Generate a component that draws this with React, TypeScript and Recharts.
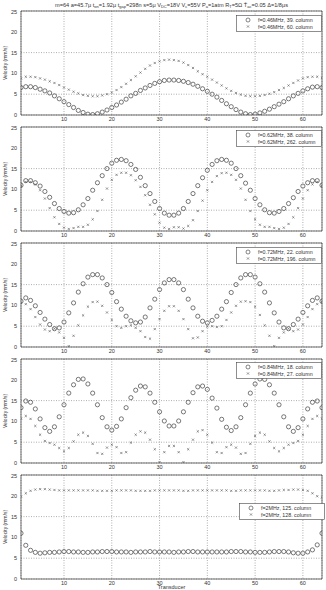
import { ScatterChart, Scatter, XAxis, YAxis, CartesianGrid, ReferenceArea } from 'recharts';

const columns = Array.from({ length: 64 }, (_, i) => i + 1);
const xTicks = [10, 20, 30, 40, 50, 60];
const yTicks = [0, 5, 10, 15, 20, 25];

// f = 0.46 MHz
const circles046 = [
  6.6, 6.8, 6.8, 6.6, 6.2, 5.8, 5.3, 4.6, 3.9, 3.2,
  2.5, 1.8, 1.1, 0.6, 0.2, 0.1, 0.3, 0.7, 1.2, 1.8,
  2.4, 3.1, 3.8, 4.6, 5.2, 5.9, 6.5, 7.1, 7.6, 8.0,
  8.3, 8.4, 8.4, 8.3, 8.1, 7.8, 7.4, 6.9, 6.3, 5.7,
  5.0, 4.3, 3.5, 2.7, 2.0, 1.3, 0.7, 0.3, 0.1, 0.2,
  0.5, 0.9, 1.4, 2.0, 2.6, 3.2, 3.9, 4.6, 5.2, 5.8,
  6.3, 6.7, 6.8, 6.6,
];
const crosses046 = [
  8.8, 9.2, 9.2, 9.1, 8.8, 8.5, 8.1, 7.7, 7.2, 6.6,
  6.1, 5.6, 5.2, 4.8, 4.6, 4.5, 4.5, 4.7, 5.0, 5.4,
  6.0, 6.7, 7.5, 8.4, 9.3, 10.2, 11.1, 11.9, 12.5, 12.9,
  13.2, 13.3, 13.2, 13.0, 12.6, 12.0, 11.3, 10.5, 9.8, 9.2,
  8.5, 7.8, 7.1, 6.4, 5.8, 5.3, 4.9, 4.6, 4.5, 4.5,
  4.6, 4.8, 5.1, 5.5, 6.0, 6.5, 7.1, 7.7, 8.3, 8.8,
  9.1, 9.2, 9.2, 8.9,
];

// f = 0.62 MHz
const circles062 = [
  11.0, 12.1, 12.1, 11.6, 10.8, 9.5, 8.1, 6.6, 5.4, 4.7,
  4.3, 4.4, 5.1, 6.3, 7.8, 9.8, 11.6, 13.3, 15.0, 16.3,
  17.0, 17.2, 16.9, 16.0, 14.8, 12.9, 10.9, 9.0, 7.1, 5.4,
  4.3, 3.8, 3.8, 4.3, 5.4, 7.1, 9.0, 10.9, 12.8, 14.6,
  16.0, 16.9, 17.2, 17.0, 16.3, 15.0, 13.3, 11.5, 9.8, 7.8,
  6.3, 5.1, 4.4, 4.3, 4.7, 5.4, 6.6, 8.0, 9.5, 10.8,
  11.6, 12.1, 12.1, 11.0,
];
const crosses062 = [
  10.8, 11.8, 11.8, 11.2, 9.8, 7.8, 5.5, 3.3, 1.7, 0.8,
  0.5, 0.7, 1.0, 1.0, 1.5, 2.8, 4.8, 7.5, 10.2, 12.3,
  13.5, 14.0, 14.0, 13.4, 12.2, 10.6, 8.6, 6.3, 4.0, 2.0,
  0.8, 0.5, 0.9, 0.9, 0.6, 1.2, 2.6, 4.8, 7.3, 9.8,
  11.8, 13.2, 13.9, 14.0, 13.5, 12.3, 10.2, 7.5, 4.8, 2.8,
  1.5, 1.0, 1.0, 0.7, 0.5, 0.8, 1.7, 3.3, 5.5, 7.8,
  9.8, 11.2, 11.8, 10.8,
];

// f = 0.72 MHz
const circles072 = [
  11.0, 11.8, 11.2, 9.9, 8.3, 6.7, 5.4, 4.4, 4.6, 6.0,
  8.2, 10.6, 13.2, 15.2, 16.8, 17.4, 17.4, 16.6, 15.0, 13.1,
  10.9, 9.1, 7.4, 6.3, 5.8, 6.0, 7.2, 9.4, 11.5, 13.8,
  15.4, 16.2, 16.2, 15.4, 13.8, 11.5, 9.4, 7.4, 6.2, 5.8,
  6.4, 7.4, 9.1, 10.9, 13.1, 15.0, 16.6, 17.4, 17.4, 16.8,
  15.2, 13.2, 10.6, 8.2, 6.0, 4.6, 4.4, 5.4, 6.7, 8.3,
  9.9, 11.2, 11.8, 11.0,
];
const crosses072 = [
  10.6, 10.3, 9.1, 7.2, 5.4, 4.2, 3.8, 4.4, 3.5, 2.2,
  0.2, 2.7, 5.2, 7.6, 9.7, 10.8, 10.9, 9.9, 8.3, 6.5,
  5.0, 4.6, 5.0, 5.2, 4.6, 3.8, 2.4, 2.0, 4.3, 6.7,
  8.7, 9.8, 9.8, 8.7, 6.7, 4.3, 2.1, 2.3, 3.8, 4.9,
  5.0, 4.8, 5.0, 6.5, 8.3, 9.9, 10.9, 11.0, 10.8, 9.7,
  7.7, 5.2, 2.7, 0.2, 2.2, 3.5, 4.4, 3.8, 4.2, 5.4,
  7.2, 9.1, 10.3, 10.8,
];

// f = 0.84 MHz
const circles084 = [
  13.3, 14.9, 14.6, 13.0, 10.6, 8.5, 7.6, 8.7, 11.1, 14.0,
  16.8, 18.8, 20.1, 20.2, 19.0, 16.8, 14.0, 10.9, 8.7, 7.9,
  8.8, 10.6, 13.3, 15.7, 17.5, 18.5, 18.3, 16.8, 14.6, 12.3,
  10.1, 8.9, 8.9, 10.1, 12.3, 14.6, 16.9, 18.3, 18.5, 17.7,
  15.6, 13.2, 10.5, 8.6, 7.8, 8.7, 10.9, 14.0, 16.8, 19.0,
  20.2, 20.1, 18.8, 16.8, 14.0, 11.1, 8.7, 7.6, 8.5, 10.6,
  13.0, 14.6, 14.9, 13.3,
];
const crosses084 = [
  10.7, 11.3, 10.6, 8.9, 6.8, 5.3, 4.8, 4.4, 3.6, 2.8,
  3.6, 5.2, 6.8, 7.3, 6.5, 4.6, 2.4, 2.2, 3.7, 4.4,
  3.8, 2.4, 2.6, 4.9, 6.8, 7.6, 7.3, 5.6, 3.3, 0.2,
  2.6, 4.1, 4.1, 2.6, 0.2, 3.3, 5.6, 7.6, 7.9, 6.8,
  4.9, 2.6, 2.4, 3.8, 4.4, 3.7, 2.2, 2.4, 4.6, 6.5,
  7.3, 6.8, 5.2, 3.6, 2.8, 3.6, 4.4, 4.8, 5.3, 6.8,
  8.9, 10.6, 11.3, 10.7,
];

// f = 2 MHz
const circles2 = [
  11.0, 8.1, 6.9, 6.4, 6.2, 6.3, 6.4, 6.4, 6.5, 6.6,
  6.6, 6.5, 6.5, 6.4, 6.4, 6.5, 6.5, 6.6, 6.6, 6.6,
  6.5, 6.5, 6.5, 6.4, 6.5, 6.5, 6.5, 6.6, 6.5, 6.5,
  6.5, 6.5, 6.4, 6.5, 6.5, 6.6, 6.6, 6.5, 6.5, 6.5,
  6.5, 6.5, 6.5, 6.5, 6.6, 6.6, 6.6, 6.5, 6.5, 6.4,
  6.4, 6.4, 6.5, 6.6, 6.6, 6.6, 6.5, 6.3, 6.2, 6.2,
  6.5, 7.0, 8.2, 11.0,
];
const crosses2 = [
  19.8, 20.6, 21.2, 21.5, 21.6, 21.6, 21.5, 21.4, 21.3, 21.3,
  21.3, 21.3, 21.3, 21.3, 21.3, 21.3, 21.2, 21.2, 21.2, 21.2,
  21.3, 21.3, 21.3, 21.3, 21.2, 21.2, 21.2, 21.2, 21.3, 21.3,
  21.3, 21.3, 21.3, 21.3, 21.2, 21.2, 21.3, 21.3, 21.3, 21.3,
  21.3, 21.3, 21.3, 21.3, 21.2, 21.2, 21.3, 21.3, 21.3, 21.3,
  21.3, 21.3, 21.2, 21.2, 21.3, 21.4, 21.4, 21.5, 21.5, 21.4,
  21.2, 20.6, 19.9, 19.6,
];

const legend046 = ['f=0.46MHz, 39. column', 'f=0.46MHz, 60. column'];
const legend062 = ['f=0.62MHz, 38. column', 'f=0.62MHz, 262. column'];
const legend072 = ['f=0.72MHz, 22. column', 'f=0.72MHz, 196. column'];
const legend084 = ['f=0.84MHz, 18. column', 'f=0.84MHz, 27. column'];
const legend2 = ['f=2MHz, 125. column', 'f=2MHz, 128. column'];

const FONT = '"Liberation Sans", Arial, sans-serif';
const tickStyle = { fontSize: 5.5, fill: '#333', fontFamily: FONT };

const toPoints = (vals: number[]) => vals.map((v, i) => ({ x: columns[i], y: v }));

function CircleMark(props: any) {
  const { cx, cy } = props;
  return <circle cx={cx} cy={cy} r={2.1} fill="none" stroke="#333" strokeWidth={0.65} />;
}

function CrossMark(props: any) {
  const { cx, cy } = props;
  const s = 1.1;
  return (
    <path
      d={`M${cx - s},${cy - s}L${cx + s},${cy + s}M${cx - s},${cy + s}L${cx + s},${cy - s}`}
      stroke="#555"
      strokeWidth={0.6}
    />
  );
}

// legend drawn as svg so the tiny text is not clamped by the browser
function LegendBox({ labels, top, left }: { labels: string[]; top: number; left: number }) {
  const w = 85;
  const h = 16;
  return (
    <svg style={{ position: 'absolute', left, top }} width={w + 1} height={h + 1}>
      <rect x={0.5} y={0.5} width={w} height={h} fill="#fff" stroke="#444" strokeWidth={0.6} />
      {labels.map((t, i) => {
        const cy = 5 + i * 6.5;
        return (
          <g key={t}>
            {i === 0 ? (
              <circle cx={12} cy={cy} r={2} fill="none" stroke="#333" strokeWidth={0.6} />
            ) : (
              <path
                d={`M10.9,${cy - 1.1}L13.1,${cy + 1.1}M10.9,${cy + 1.1}L13.1,${cy - 1.1}`}
                stroke="#555"
                strokeWidth={0.6}
              />
            )}
            <text x={22} y={cy + 2} fontSize={5.3} fill="#333" fontFamily={FONT}>
              {t}
            </text>
          </g>
        );
      })}
    </svg>
  );
}

interface PanelProps {
  top: number;
  circles: number[];
  crosses: number[];
  legend: string[];
  legendTop: number;
  legendLeft?: number;
}

function Panel({ top, circles, crosses, legend, legendTop, legendLeft = 236 }: PanelProps) {
  return (
    <div style={{ position: 'absolute', left: 0, top: top - 2, width: 326, height: 116 }}>
      <ScatterChart width={326} height={116} margin={{ top: 2, right: 4, bottom: 0, left: 0 }}>
        <CartesianGrid stroke="#777" strokeDasharray="1 1.5" strokeWidth={0.6} />
        <XAxis
          type="number"
          dataKey="x"
          domain={[1, 64]}
          ticks={xTicks}
          allowDataOverflow
          tickSize={0}
          tickMargin={2}
          height={10}
          tick={tickStyle}
          axisLine={false}
        />
        <YAxis
          type="number"
          dataKey="y"
          domain={[0, 25]}
          ticks={yTicks}
          allowDataOverflow
          width={21}
          tickSize={0}
          tickMargin={4}
          tick={tickStyle}
          axisLine={false}
          label={{
            value: 'Velocity (mm/s)',
            angle: -90,
            position: 'insideLeft',
            offset: 5,
            style: { fontSize: 5, fill: '#333', fontFamily: FONT, textAnchor: 'middle' },
          }}
        />
        <ReferenceArea x1={1} x2={64} y1={0} y2={25} fill="none" stroke="#333" strokeWidth={0.7} />
        <Scatter data={toPoints(circles)} shape={CircleMark} isAnimationActive={false} />
        <Scatter data={toPoints(crosses)} shape={CrossMark} isAnimationActive={false} />
      </ScatterChart>
      <LegendBox labels={legend} top={legendTop + 2} left={legendLeft} />
    </div>
  );
}

const sub = { fontSize: 4 };

export default function App() {
  return (
    <div style={{ position: 'relative', width: 326, height: 590, overflow: 'hidden', background: '#fff', fontFamily: FONT }}>
      <style>{'body{margin:0}'}</style>
      <svg style={{ position: 'absolute', left: 0, top: 0 }} width={326} height={10}>
        <text x={171.5} y={6.5} textAnchor="middle" fontSize={5.6} fill="#333" fontFamily={FONT}>
          m=64 a=45.7μ t<tspan {...sub} dy={1}>on</tspan>
          <tspan dy={-1}>=1.92μ t</tspan>
          <tspan {...sub} dy={1}>gap</tspan>
          <tspan dy={-1}>=298n s=5μ V</tspan>
          <tspan {...sub} dy={1}>DC</tspan>
          <tspan dy={-1}>=18V V</tspan>
          <tspan {...sub} dy={1}>c</tspan>
          <tspan dy={-1}>=55V P</tspan>
          <tspan {...sub} dy={1}>a</tspan>
          <tspan dy={-1}>=1atm R</tspan>
          <tspan {...sub} dy={1}>T</tspan>
          <tspan dy={-1}>=5Ω T̄</tspan>
          <tspan {...sub} dy={1}>ac</tspan>
          <tspan dy={-1}>=0.05 Δ=1/8μs</tspan>
        </text>
      </svg>
      <Panel top={11} circles={circles046} crosses={crosses046} legend={legend046} legendTop={4} />
      <Panel top={127} circles={circles062} crosses={crosses062} legend={legend062} legendTop={3} />
      <Panel top={243} circles={circles072} crosses={crosses072} legend={legend072} legendTop={4} />
      <Panel top={359} circles={circles084} crosses={crosses084} legend={legend084} legendTop={3} />
      <Panel top={475} circles={circles2} crosses={crosses2} legend={legend2} legendTop={28} legendLeft={239} />
      <svg style={{ position: 'absolute', left: 0, top: 580 }} width={326} height={10}>
        <text x={171.5} y={9.4} textAnchor="middle" fontSize={5.5} fill="#333" fontFamily={FONT}>
          Transducer
        </text>
      </svg>
    </div>
  );
}
